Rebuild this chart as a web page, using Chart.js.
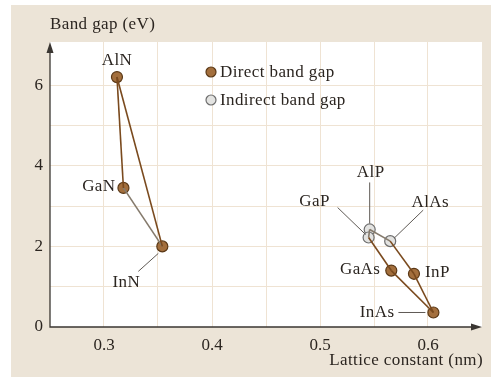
<!DOCTYPE html>
<html>
<head>
<meta charset="utf-8">
<script src="https://cdn.jsdelivr.net/npm/chart.js@4/dist/chart.umd.min.js"></script>
<style>
  html, body { margin: 0; padding: 0; background: #ffffff; }
  #wrap { width: 491px; height: 377px; }
</style>
</head>
<body>
<div id="wrap"><canvas id="c" width="491" height="377"></canvas></div>
<script>
// III-V compounds: lattice constant (nm) and band gap (eV)
const compounds = ['AlN', 'GaN', 'InN', 'AlP', 'GaP', 'AlAs', 'GaAs', 'InP', 'InAs'];
const latticeNm = [0.312, 0.318, 0.354, 0.546, 0.545, 0.565, 0.566, 0.587, 0.605];
const bandGapEv = [6.20, 3.45, 2.00, 2.42, 2.22, 2.13, 1.40, 1.32, 0.36];
const gapType   = ['direct', 'direct', 'direct', 'indirect', 'indirect', 'indirect', 'direct', 'direct', 'direct'];

// Alloy tie lines between compounds
const brownLinks = [['AlN', 'GaN'], ['AlN', 'InN'], ['GaP', 'GaAs'], ['GaAs', 'InAs'], ['AlAs', 'InP'], ['InP', 'InAs']];
const greyLinks  = [['GaN', 'InN'], ['GaP', 'AlP'], ['AlP', 'AlAs']];

const xTickLabels = [0.3, 0.4, 0.5, 0.6];
const yTickLabels = [0, 2, 4, 6];
const legendLabels = ['Direct band gap', 'Indirect band gap'];

// Label placement relative to each point (pixels)
const labelLayout = {
  AlN:  { dx: 0,   dy: -17, align: 'center' },
  GaN:  { dx: -8,  dy: -1,  align: 'right' },
  InN:  { dx: -36, dy: 36,  align: 'center', lead: [-4, 7, -24, 25] },
  AlP:  { dx: 1,   dy: -57, align: 'center', lead: [0, -6, 0, -47] },
  GaP:  { dx: -54, dy: -36, align: 'center', lead: [-3, -3, -31, -30] },
  AlAs: { dx: 40,  dy: -39, align: 'center', lead: [4, -3, 33, -31] },
  GaAs: { dx: -11, dy: -1,  align: 'right' },
  InP:  { dx: 11,  dy: -1,  align: 'left' },
  InAs: { dx: -39, dy: 0,   align: 'right', lead: [-8, 0, -35, 0] }
};

const SERIF = '"Liberation Serif", "DejaVu Serif", serif';
const FONT_SIZE = 17;
const INK = '#2b2520';
const BROWN = '#7a4a1e';
const GREYLINE = '#857a6c';
const DIRECT_FILL = '#a36f3d', DIRECT_EDGE = '#5a3816';
const INDIRECT_FILL = '#e3e3e1', INDIRECT_EDGE = '#6d6d6d';

function pt(name) {
  const i = compounds.indexOf(name);
  return { x: latticeNm[i], y: bandGapEv[i] };
}

const datasets = [];
brownLinks.forEach(([a, b]) => datasets.push({
  data: [pt(a), pt(b)], showLine: true, borderColor: BROWN, borderWidth: 1.6,
  pointRadius: 0, pointHoverRadius: 0
}));
greyLinks.forEach(([a, b]) => datasets.push({
  data: [pt(a), pt(b)], showLine: true, borderColor: GREYLINE, borderWidth: 1.6,
  pointRadius: 0, pointHoverRadius: 0
}));
['direct', 'indirect'].forEach(kind => datasets.push({
  data: compounds.map((c, i) => ({ x: latticeNm[i], y: bandGapEv[i], kind: gapType[i] }))
                 .filter(p => p.kind === kind),
  showLine: false,
  pointRadius: 5.5,
  pointBorderWidth: 1.2,
  pointBackgroundColor: kind === 'direct' ? DIRECT_FILL : INDIRECT_FILL,
  pointBorderColor: kind === 'direct' ? DIRECT_EDGE : INDIRECT_EDGE
}));

const decor = {
  id: 'decor',
  beforeDraw(chart) {
    const { ctx, chartArea: a } = chart;
    ctx.save();
    ctx.fillStyle = '#ffffff';
    ctx.fillRect(0, 0, chart.width, chart.height);
    ctx.fillStyle = '#ece4d7';
    ctx.fillRect(11, 5, chart.width - 11, chart.height - 5);
    ctx.fillStyle = '#ffffff';
    ctx.fillRect(a.left, a.top, a.right - a.left, a.bottom - a.top);
    ctx.restore();
  },
  beforeDatasetsDraw(chart) {
    const { ctx, chartArea: a } = chart;
    ctx.save();
    ctx.strokeStyle = '#3a3632';
    ctx.fillStyle = '#3a3632';
    ctx.lineWidth = 1.3;
    ctx.beginPath();
    ctx.moveTo(a.left, a.top + 8);
    ctx.lineTo(a.left, a.bottom);
    ctx.lineTo(a.right - 8, a.bottom);
    ctx.stroke();
    // arrow heads
    ctx.beginPath();
    ctx.moveTo(a.left, a.top);
    ctx.lineTo(a.left - 3.5, a.top + 11);
    ctx.lineTo(a.left + 3.5, a.top + 11);
    ctx.closePath();
    ctx.fill();
    ctx.beginPath();
    ctx.moveTo(a.right, a.bottom);
    ctx.lineTo(a.right - 11, a.bottom - 3.5);
    ctx.lineTo(a.right - 11, a.bottom + 3.5);
    ctx.closePath();
    ctx.fill();
    ctx.restore();
  },
  afterDatasetsDraw(chart) {
    const { ctx, chartArea: a, scales: { x, y } } = chart;
    ctx.save();
    ctx.fillStyle = INK;
    ctx.font = FONT_SIZE + 'px ' + SERIF;
    ctx.letterSpacing = '0.4px';
    ctx.textBaseline = 'middle';

    // axis titles
    ctx.textAlign = 'left';
    ctx.fillText('Band gap (eV)', a.left, 25);
    ctx.textAlign = 'right';
    ctx.fillText('Lattice constant (nm)', a.right + 1, 361);

    // compound labels with leader lines
    compounds.forEach((name, i) => {
      const px = x.getPixelForValue(latticeNm[i]);
      const py = y.getPixelForValue(bandGapEv[i]);
      const L = labelLayout[name];
      if (L.lead) {
        ctx.strokeStyle = '#5f5a55';
        ctx.lineWidth = 1;
        ctx.beginPath();
        ctx.moveTo(px + L.lead[0], py + L.lead[1]);
        ctx.lineTo(px + L.lead[2], py + L.lead[3]);
        ctx.stroke();
      }
      ctx.textAlign = L.align;
      ctx.fillText(name, px + L.dx, py + L.dy);
    });

    // legend
    const lx = 211, ly = [72, 100];
    legendLabels.forEach((txt, k) => {
      ctx.beginPath();
      ctx.arc(lx, ly[k], 5, 0, Math.PI * 2);
      ctx.fillStyle = k === 0 ? DIRECT_FILL : INDIRECT_FILL;
      ctx.fill();
      ctx.lineWidth = 1.2;
      ctx.strokeStyle = k === 0 ? DIRECT_EDGE : INDIRECT_EDGE;
      ctx.stroke();
      ctx.fillStyle = INK;
      ctx.textAlign = 'left';
      ctx.fillText(txt, lx + 9, ly[k] + 1);
    });
    ctx.restore();
  }
};

const near = (v, list) => list.some(t => Math.abs(v - t) < 1e-6);

new Chart(document.getElementById('c'), {
  type: 'scatter',
  data: { datasets },
  plugins: [decor],
  options: {
    responsive: false,
    animation: false,
    events: [],
    layout: { padding: { top: 42, right: 9, left: 0, bottom: 0 } },
    plugins: { legend: { display: false }, tooltip: { enabled: false } },
    scales: {
      x: {
        type: 'linear', min: 0.25, max: 0.65,
        afterFit: s => { s.height = 50; },
        border: { display: false },
        grid: {
          drawTicks: false,
          color: c => (c.tick && (c.tick.value < 0.26 || c.tick.value > 0.64)) ? 'rgba(0,0,0,0)' : '#efe3d3',
          lineWidth: 1
        },
        ticks: {
          stepSize: 0.05, padding: 8, color: INK,
          font: { family: SERIF, size: FONT_SIZE },
          callback: v => near(v, xTickLabels) ? v.toFixed(1) : ''
        }
      },
      y: {
        type: 'linear', min: 0, max: 7.07,
        afterFit: s => { s.width = 50; },
        border: { display: false },
        grid: {
          drawTicks: false,
          color: c => (c.tick && (c.tick.value < 0.01 || c.tick.value > 7.01)) ? 'rgba(0,0,0,0)' : '#efe3d3',
          lineWidth: 1
        },
        ticks: {
          stepSize: 1, padding: 7, color: INK,
          font: { family: SERIF, size: FONT_SIZE },
          callback: v => near(v, yTickLabels) ? String(v) : ''
        }
      }
    }
  }
});
</script>
</body>
</html>
